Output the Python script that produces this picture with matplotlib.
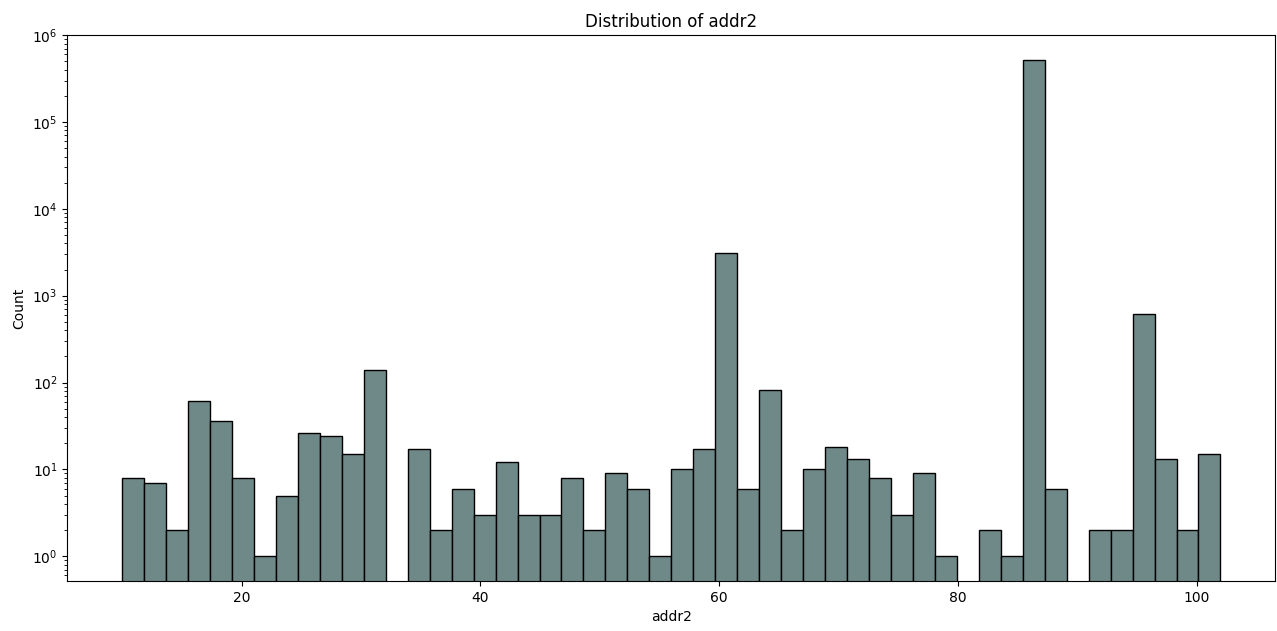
import numpy as np
import matplotlib

matplotlib.use("Agg")
import matplotlib.pyplot as plt
from matplotlib.ticker import NullFormatter

# histogram of addr2: 50 equal bins from 10 to 102
bin_lo, bin_hi, n_bins = 10, 102, 50
counts = [
    8, 7, 2, 61, 36, 8, 1, 5, 26, 24,
    15, 138, 0, 17, 2, 6, 3, 12, 3, 3,
    8, 2, 9, 6, 1, 10, 17, 3100, 6, 82,
    2, 10, 18, 13, 8, 3, 9, 1, 0, 2,
    1, 520000, 6, 0, 2, 2, 620, 13, 2, 15,
]

edges = np.linspace(bin_lo, bin_hi, n_bins + 1)
centers = (edges[:-1] + edges[1:]) / 2
counts = np.array(counts, dtype=float)

fig = plt.figure(figsize=(12.77, 6.31), dpi=100)
ax = fig.add_axes([0.0527, 0.0792, 0.946, 0.8653])

ax.hist(centers, bins=edges, weights=counts, color="#6f8888",
        edgecolor="black", linewidth=1.0)
ax.set_yscale("log")
ax.yaxis.set_minor_formatter(NullFormatter())

# 5% margins in log space, like seaborn's autoscale
pos = counts[counts > 0]
lo, hi = np.log10(pos.min()), np.log10(pos.max())
pad = 0.05 * (hi - lo)
ax.set_ylim(10 ** (lo - pad), 10 ** (hi + pad))
span = bin_hi - bin_lo
ax.set_xlim(bin_lo - 0.05 * span, bin_hi + 0.05 * span)

ax.set_title("Distribution of addr2")
ax.set_xlabel("addr2")
ax.set_ylabel("Count")

fig.savefig("out.png", dpi=100)
